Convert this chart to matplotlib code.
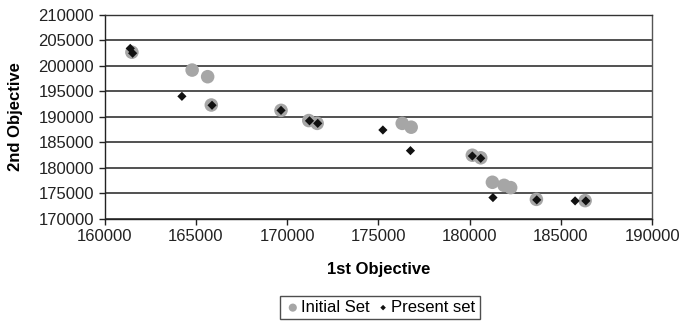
import matplotlib.pyplot as plt
from matplotlib.ticker import MultipleLocator

plt.rcParams["font.family"] = ["Liberation Sans", "DejaVu Sans"]

# =========================================
# DATA
# =========================================
initial_x = [161500, 164800, 165650, 165850, 169670, 171190, 171650,
             176310, 176800, 180150, 180610, 181250, 181890, 182250,
             183660, 186330]
initial_y = [202700, 199200, 197900, 192350, 191300, 189300, 188750,
             188750, 188000, 182500, 182000, 177200, 176600, 176150,
             173850, 173600]

present_x = [161410, 161540, 164240, 165890, 169670, 171230, 171680,
             175250, 176760, 180150, 180610, 181280, 183680, 185780,
             186370]
present_y = [203450, 202500, 194050, 192300, 191300, 189250, 188750,
             187450, 183400, 182350, 181900, 174200, 173750, 173550,
             173550]

# =========================================
# PLOT
# =========================================
fig = plt.figure(figsize=(6.8, 3.23), dpi=100)
ax = fig.add_axes([0.1537, 0.322, 0.8053, 0.6316])

ax.scatter(initial_x, initial_y, s=95, color="#a6a6a6", edgecolors="none",
           label="Initial Set", zorder=3)
ax.scatter(present_x, present_y, s=22, marker="D", color="#111111",
           edgecolors="none", label="Present set", zorder=4)

ax.set_xlim(160000, 190000)
ax.set_ylim(170000, 210000)
ax.xaxis.set_major_locator(MultipleLocator(5000))
ax.yaxis.set_major_locator(MultipleLocator(5000))

ax.grid(axis="y", color="#333333", linewidth=1.2)
ax.set_axisbelow(True)

for spine in ax.spines.values():
    spine.set_linewidth(1.0)
    spine.set_color("#222222")
ax.spines["top"].set_color("#333333")
ax.spines["right"].set_color("#555555")

ax.tick_params(axis="both", labelsize=12, length=4, width=1.0,
               direction="out", colors="#222222", labelcolor="#222222")

ax.set_xlabel("1st Objective", fontsize=12, weight="bold", labelpad=13)
ax.set_ylabel("2nd Objective", fontsize=12, weight="bold", labelpad=11)

leg = fig.legend(loc="center", bbox_to_anchor=(380 / 680, 1 - 307.5 / 323),
                 ncol=2, frameon=True, fancybox=False, fontsize=12,
                 handletextpad=0.0, columnspacing=0.3, borderpad=0.25,
                 handlelength=1.0, markerscale=0.6)
leg.get_frame().set_edgecolor("#222222")
leg.get_frame().set_linewidth(1.0)

fig.savefig("out.png", dpi=100)
